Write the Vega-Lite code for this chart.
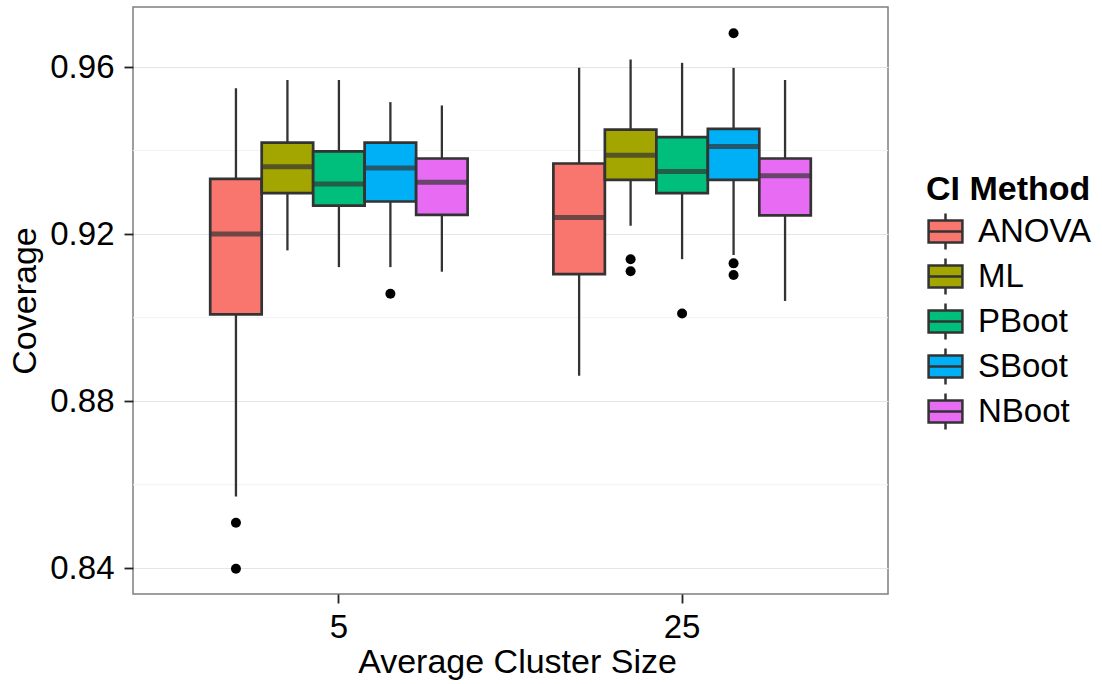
{
  "$schema": "https://vega.github.io/schema/vega-lite/v6.json",
  "autosize": {"type": "none"},
  "padding": {"left": 133, "top": 7, "right": 214, "bottom": 90},
  "width": 755,
  "height": 587,
  "background": "white",
  "config": {
    "font": "Liberation Sans",
    "view": {"stroke": "#7F7F7F", "strokeWidth": 1.5},
    "axis": {"domain": false, "labelColor": "black", "titleColor": "black", "tickColor": "#222222", "tickWidth": 1.8, "tickSize": 9, "labelFontSize": 33, "titleFontSize": 34, "titleFontWeight": "normal", "gridColor": "#E5E5E5", "gridWidth": 1}
  },
  "datasets": {
    "boxes": [
      {"size": "5", "method": "ANOVA", "lo": 0.8572, "q1": 0.9008, "med": 0.9200, "q3": 0.9332, "hi": 0.9549},
      {"size": "5", "method": "ML", "lo": 0.9161, "q1": 0.9298, "med": 0.9361, "q3": 0.9419, "hi": 0.9569},
      {"size": "5", "method": "PBoot", "lo": 0.9121, "q1": 0.9268, "med": 0.9320, "q3": 0.9398, "hi": 0.9569},
      {"size": "5", "method": "SBoot", "lo": 0.9121, "q1": 0.9278, "med": 0.9358, "q3": 0.9419, "hi": 0.9516},
      {"size": "5", "method": "NBoot", "lo": 0.9110, "q1": 0.9246, "med": 0.9324, "q3": 0.9381, "hi": 0.9508},
      {"size": "25", "method": "ANOVA", "lo": 0.8861, "q1": 0.9104, "med": 0.9240, "q3": 0.9369, "hi": 0.9598},
      {"size": "25", "method": "ML", "lo": 0.9220, "q1": 0.9330, "med": 0.9389, "q3": 0.9450, "hi": 0.9618},
      {"size": "25", "method": "PBoot", "lo": 0.9140, "q1": 0.9298, "med": 0.9350, "q3": 0.9432, "hi": 0.9610},
      {"size": "25", "method": "SBoot", "lo": 0.9150, "q1": 0.9330, "med": 0.9410, "q3": 0.9452, "hi": 0.9598},
      {"size": "25", "method": "NBoot", "lo": 0.9040, "q1": 0.9245, "med": 0.9340, "q3": 0.9381, "hi": 0.9569}
    ],
    "outliers": [
      {"size": "5", "method": "ANOVA", "value": 0.8509},
      {"size": "5", "method": "ANOVA", "value": 0.8399},
      {"size": "5", "method": "SBoot", "value": 0.9057},
      {"size": "25", "method": "ML", "value": 0.9140},
      {"size": "25", "method": "ML", "value": 0.9111},
      {"size": "25", "method": "PBoot", "value": 0.9010},
      {"size": "25", "method": "SBoot", "value": 0.9681},
      {"size": "25", "method": "SBoot", "value": 0.9130},
      {"size": "25", "method": "SBoot", "value": 0.9102}
    ],
    "minor": [{"v": 0.86}, {"v": 0.90}, {"v": 0.94}]
  },
  "layer": [
    {
      "data": {"name": "minor"},
      "mark": {"type": "rule", "color": "#F3F3F3", "strokeWidth": 1},
      "encoding": {
        "y": {"field": "v", "type": "quantitative", "scale": {"domain": [0.83384, 0.97437], "nice": false, "zero": false}}
      }
    },
    {
      "data": {"name": "boxes"},
      "mark": {"type": "rule", "color": "#333333", "strokeWidth": 2.3},
      "encoding": {
        "x": {"field": "size", "type": "nominal", "sort": ["5", "25"], "scale": {"type": "band", "paddingInner": 0, "paddingOuter": 0.1},
              "axis": {"title": "Average Cluster Size", "labelAngle": 0, "bandPosition": 0.5, "labelPadding": 8, "titleX": 384, "titleY": 78, "titleBaseline": "alphabetic", "titleAnchor": null}},
        "xOffset": {"field": "method", "type": "nominal", "sort": ["ANOVA", "ML", "PBoot", "SBoot", "NBoot"], "scale": {"paddingInner": 0, "paddingOuter": 0.833}},
        "y": {"field": "lo", "type": "quantitative", "scale": {"domain": [0.83384, 0.97437], "nice": false, "zero": false},
              "axis": {"title": "Coverage", "values": [0.84, 0.88, 0.92, 0.96], "format": ".2f", "labelPadding": 10, "titleX": -108, "titleY": 293.5, "titleBaseline": "middle", "titleAngle": -90}},
        "y2": {"field": "hi"}
      }
    },
    {
      "data": {"name": "boxes"},
      "mark": {"type": "bar", "stroke": "#333333", "strokeWidth": 2.7, "opacity": 1},
      "encoding": {
        "x": {"field": "size", "type": "nominal", "sort": ["5", "25"]},
        "xOffset": {"field": "method", "type": "nominal", "sort": ["ANOVA", "ML", "PBoot", "SBoot", "NBoot"]},
        "y": {"field": "q1", "type": "quantitative"},
        "y2": {"field": "q3"},
        "color": {"field": "method", "type": "nominal", "sort": ["ANOVA", "ML", "PBoot", "SBoot", "NBoot"],
                  "scale": {"domain": ["ANOVA", "ML", "PBoot", "SBoot", "NBoot"], "range": ["#F8766D", "#A3A500", "#00BF7D", "#00B0F6", "#E76BF3"]},
                  "legend": {"title": "CI Method", "orient": "none", "legendX": 793, "legendY": 166, "padding": 0,
                             "titleFontSize": 34, "titleFontWeight": "bold", "titleColor": "black", "titlePadding": 5,
                             "labelFontSize": 33, "labelColor": "black", "labelOffset": 13,
                             "symbolType": "M-0.94,-0.61H0.94V0.61H-0.94Z M-0.94,0H0.94 M0,-1V-0.61 M0,0.61V1",
                             "symbolSize": 1296, "symbolStrokeColor": "#333333", "symbolStrokeWidth": 2.5, "symbolOpacity": 1, "rowPadding": -2}}
      }
    },
    {
      "data": {"name": "boxes"},
      "mark": {"type": "tick", "color": "#333333", "size": 51, "thickness": 5, "orient": "horizontal"},
      "encoding": {
        "x": {"field": "size", "type": "nominal", "sort": ["5", "25"]},
        "xOffset": {"field": "method", "type": "nominal", "sort": ["ANOVA", "ML", "PBoot", "SBoot", "NBoot"]},
        "y": {"field": "med", "type": "quantitative"}
      }
    },
    {
      "data": {"name": "outliers"},
      "mark": {"type": "circle", "color": "black", "size": 100, "opacity": 1},
      "encoding": {
        "x": {"field": "size", "type": "nominal", "sort": ["5", "25"]},
        "xOffset": {"field": "method", "type": "nominal", "sort": ["ANOVA", "ML", "PBoot", "SBoot", "NBoot"]},
        "y": {"field": "value", "type": "quantitative"}
      }
    },
    {
      "mark": {"type": "rule", "color": "black", "strokeWidth": 2.2},
      "encoding": {"y": {"datum": 0.95}}
    }
  ]
}
